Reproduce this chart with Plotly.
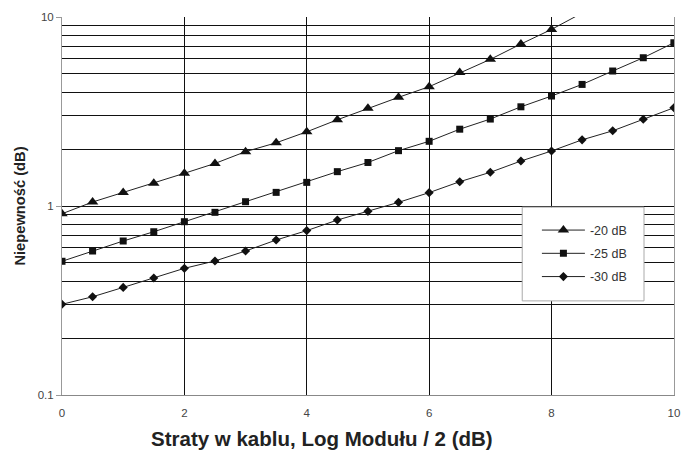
import plotly.graph_objects as go

# Cable loss (x) and uncertainty (y) for three directivity levels
loss_db = [0, 0.5, 1, 1.5, 2, 2.5, 3, 3.5, 4, 4.5, 5, 5.5, 6, 6.5, 7, 7.5, 8, 8.5, 9, 9.5, 10]

unc_20 = [0.91, 1.05, 1.18, 1.32, 1.49, 1.68, 1.94, 2.16, 2.47, 2.86, 3.29, 3.76, 4.28,
          5.08, 5.97, 7.2, 8.6, 10.5]
unc_25 = [0.51, 0.578, 0.653, 0.731, 0.826, 0.926, 1.054, 1.181, 1.334, 1.52, 1.70, 1.963,
          2.20, 2.55, 2.885, 3.35, 3.82, 4.40, 5.18, 6.09, 7.31]
unc_30 = [0.302, 0.331, 0.371, 0.416, 0.468, 0.512, 0.578, 0.661, 0.741, 0.843, 0.937,
          1.046, 1.177, 1.345, 1.508, 1.73, 1.955, 2.24, 2.50, 2.88, 3.31]

series_names = ["-20 dB", "-25 dB", "-30 dB"]
series_values = [unc_20, unc_25, unc_30]
series_symbols = ["triangle-up", "square", "diamond"]
series_sizes = [10, 7, 7]

x_ticks = [0, 2, 4, 6, 8, 10]
y_major = [0.1, 1, 10]
y_major_text = ["0.1", "1", "10"]
y_minor = [0.2, 0.3, 0.4, 0.5, 0.6, 0.7, 0.8, 0.9, 2, 3, 4, 5, 6, 7, 8, 9]

x_title = "<b>Straty w kablu, Log Modułu / 2 (dB)</b>"
y_title = "<b>Niepewność (dB)</b>"

fig = go.Figure()
for i, (name, vals, sym, sz) in enumerate(zip(series_names, series_values, series_symbols, series_sizes)):
    fig.add_trace(go.Scatter(
        x=loss_db[:len(vals)], y=vals, name=name, mode="lines+markers",
        line=dict(color="#222222", width=1),
        marker=dict(symbol=sym, size=sz, color="#111111"),
        legendgroup=f"g{i}",
    ))

fig.update_layout(
    width=681, height=450,
    margin=dict(l=62, r=7, t=17, b=55),
    paper_bgcolor="white", plot_bgcolor="white",
    font=dict(family="Liberation Sans, Arial, sans-serif", color="#333333"),
    showlegend=True,
    legend=dict(
        x=0.776, y=0.475, xanchor="left", yanchor="top",
        bgcolor="rgba(0,0,0,0)", borderwidth=0,
        font=dict(size=12.5, color="#333333"),
        itemwidth=43, tracegroupgap=4,
    ),
    shapes=[dict(
        type="rect", xref="paper", yref="paper",
        x0=0.752, x1=0.951, y0=0.249, y1=0.497,
        line=dict(color="#aaaaaa", width=1), fillcolor="white", layer="above",
    )],
    annotations=[dict(
        text=x_title, xref="paper", yref="paper", x=0.425, y=-0.115,
        xanchor="center", yanchor="middle", showarrow=False,
        font=dict(size=20.5, color="#222222"),
    )],
)

fig.update_xaxes(
    range=[0, 10.002], tickvals=x_ticks, automargin=False,
    showgrid=True, gridcolor="#111111", gridwidth=1,
    showline=True, linecolor="#888888", linewidth=1,
    zeroline=False, ticks="", ticklabelstandoff=7, ticklabeloverflow="allow",
    tickfont=dict(size=11.5, color="#444444"),
)

fig.update_yaxes(
    type="log", range=[-1, 1.0002], automargin=False,
    tickvals=y_major, ticktext=y_major_text,
    showgrid=True, gridcolor="#111111", gridwidth=1,
    minor=dict(tickvals=y_minor, showgrid=True, gridcolor="#111111", gridwidth=1, ticks=""),
    showline=True, linecolor="#999999", linewidth=1, mirror=True,
    zeroline=False, ticks="outside", ticklen=5, tickcolor="#999999",
    tickfont=dict(size=11.5, color="#444444"),
    title=dict(text=y_title, font=dict(size=14.7, color="#222222"), standoff=8),
)

fig.write_html("out.html")
